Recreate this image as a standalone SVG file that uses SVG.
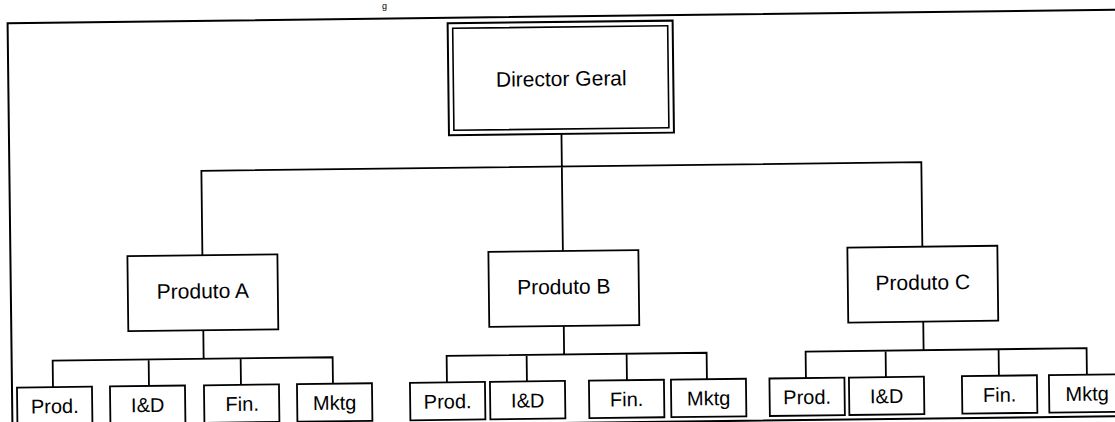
<svg xmlns="http://www.w3.org/2000/svg" width="1115" height="422" viewBox="0 0 1115 422">
<style>
.bx{fill:#fff;stroke:#000;stroke-width:1.8}
.ln{fill:none;stroke:#000;stroke-width:1.8}
.t1{font-family:"Liberation Sans",Arial,sans-serif;font-size:21px;fill:#000;text-anchor:middle}
.t2{font-family:"Liberation Sans",Arial,sans-serif;font-size:20px;fill:#000;text-anchor:middle}
</style>
<rect x="0" y="0" width="1115" height="422" fill="#fff"/>
<text x="382" y="9" font-family="Liberation Sans, Arial, sans-serif" font-size="9" fill="#000">g</text>
<g transform="rotate(-0.69 560 220)">
  <rect id="frame" x="10" y="16.5" width="1115" height="406.5" fill="none" stroke="#000" stroke-width="2"/>
  <g id="connectors">
    <path class="ln" d="M202,251 V166.5 H922 V251 M562.5,134 V251"/>
    <path class="ln" d="M202,326 V354.5 M51,381 V354.5 H331 V381 M147,354.5 V381 M239,354.5 V381"/>
    <path class="ln" d="M562.5,326 V354.5 M445,381 V354.5 H705 V381 M525,354.5 V381 M625,354.5 V381"/>
    <path class="ln" d="M922,326 V354.5 M804,381 V354.5 H1085 V381 M884,354.5 V381 M997,354.5 V381"/>
  </g>
  <g id="director-geral">
    <rect x="450" y="22" width="225" height="112" fill="#fff" stroke="#000" stroke-width="2"/>
    <rect x="455" y="27" width="215" height="102" fill="none" stroke="#000" stroke-width="1.6"/>
    <text class="t1" x="563" y="86">Director Geral</text>
  </g>
  <g id="produto-a">
    <rect class="bx" x="127" y="251" width="150" height="75"/>
    <text class="t1" x="202" y="294">Produto A</text>
  </g>
  <g id="produto-b">
    <rect class="bx" x="488" y="251" width="150" height="75"/>
    <text class="t1" x="563" y="294">Produto B</text>
  </g>
  <g id="produto-c">
    <rect class="bx" x="847" y="251" width="150" height="75"/>
    <text class="t1" x="922" y="294">Produto C</text>
  </g>
  <g id="a-prod"><rect class="bx" x="15" y="381" width="75" height="37.5"/><text class="t2" x="52.5" y="407">Prod.</text></g>
  <g id="a-id"><rect class="bx" x="108" y="381" width="75" height="37.5"/><text class="t2" x="145.5" y="407">I&amp;D</text></g>
  <g id="a-fin"><rect class="bx" x="202" y="381" width="75" height="37.5"/><text class="t2" x="240" y="407">Fin.</text></g>
  <g id="a-mktg"><rect class="bx" x="295" y="381" width="75" height="37.5"/><text class="t2" x="332.5" y="407">Mktg</text></g>
  <g id="b-prod"><rect class="bx" x="408" y="381" width="75" height="37.5"/><text class="t2" x="445.5" y="407">Prod.</text></g>
  <g id="b-id"><rect class="bx" x="488" y="381" width="75" height="37.5"/><text class="t2" x="525.5" y="407">I&amp;D</text></g>
  <g id="b-fin"><rect class="bx" x="587" y="381" width="75" height="37.5"/><text class="t2" x="624.5" y="407">Fin.</text></g>
  <g id="b-mktg"><rect class="bx" x="669" y="381" width="75" height="37.5"/><text class="t2" x="706.5" y="407">Mktg</text></g>
  <g id="c-prod"><rect class="bx" x="767.5" y="381" width="75" height="37.5"/><text class="t2" x="805" y="407">Prod.</text></g>
  <g id="c-id"><rect class="bx" x="847" y="381" width="75" height="37.5"/><text class="t2" x="884.5" y="407">I&amp;D</text></g>
  <g id="c-fin"><rect class="bx" x="960" y="381" width="75" height="37.5"/><text class="t2" x="997.5" y="407">Fin.</text></g>
  <g id="c-mktg"><rect class="bx" x="1047" y="381" width="75" height="37.5"/><text class="t2" x="1085" y="407">Mktg</text></g>
</g>
</svg>
